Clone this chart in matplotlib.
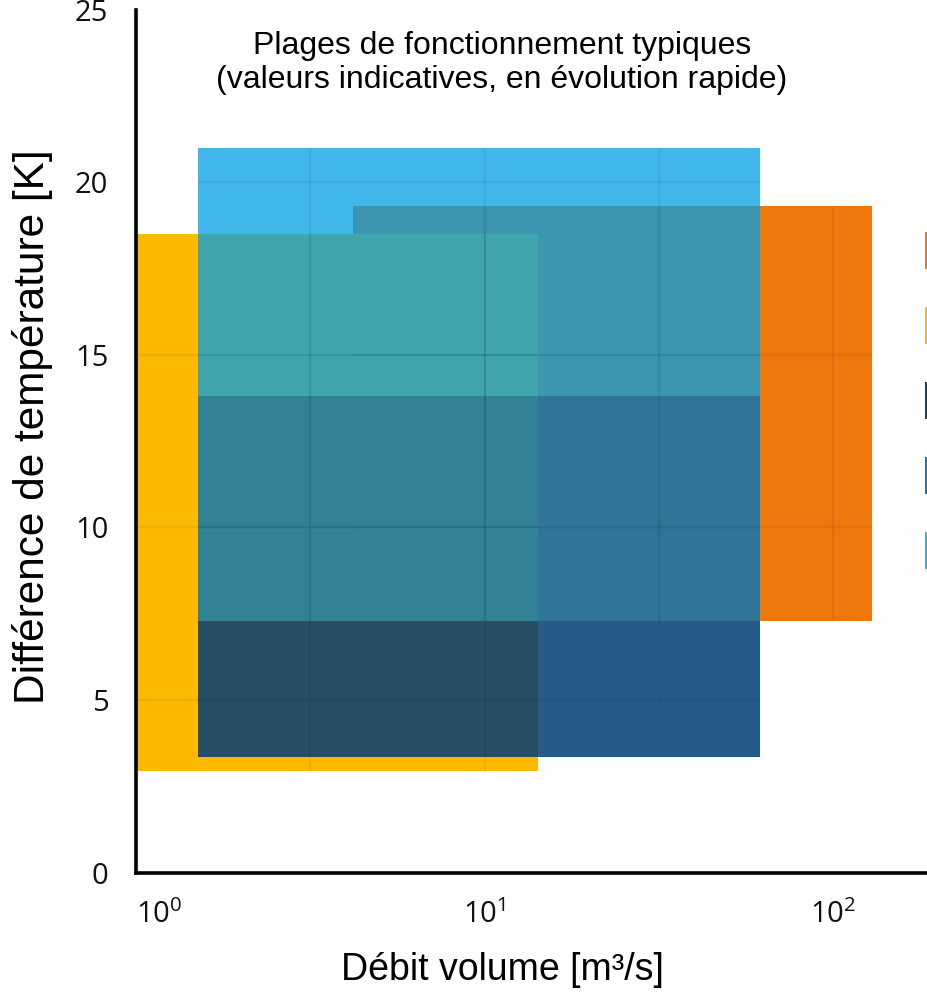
import matplotlib
matplotlib.use("Agg")
import matplotlib.pyplot as plt
from matplotlib.patches import Rectangle, Patch

plt.rcParams["mathtext.fontset"] = "custom"
plt.rcParams["mathtext.rm"] = "Open Sans"
plt.rcParams["mathtext.it"] = "Open Sans"

# operating ranges: (flow min, flow max) [m3/s] and (dT min, dT max) [K]
names = ["Plage 1", "Plage 2", "Plage 3", "Plage 4", "Plage 5"]
flow_min = [4.2, 1.0, 1.5, 1.5, 1.5]
flow_max = [130.0, 14.2, 62.0, 62.0, 62.0]
dT_min = [7.3, 2.95, 3.35, 7.3, 13.8]
dT_max = [19.3, 18.5, 7.3, 13.8, 21.0]
colors = ["#ef780d", "#fbb900", "#003d75", "#0074bb", "#08a0e2"]
alphas = [1.0, 1.0, 0.85, 0.8, 0.77]
legend_colors = ["#ee7c1c", "#fbbb10", "#1d3d6a", "#1c73b5", "#37aee5"]

x_ticks = [1, 10, 100]
x_ticklabels = [r"$10^{0}$", r"$10^{1}$", r"$10^{2}$"]
x_grid = [10 ** 0.5, 10, 10 ** 1.5, 100]
y_ticks = [0, 5, 10, 15, 20, 25]
y_grid = [5, 10, 15, 20]

fig = plt.figure(figsize=(9.28, 9.96), dpi=100)
ax = fig.add_axes([0.1468, 0.1239, 0.9758, 0.8663])
ax.set_xscale("log")
ax.set_xlim(1, 10 ** 2.6)
ax.set_ylim(0, 25)

rects = []
for i in range(len(names)):
    r = Rectangle((flow_min[i], dT_min[i]), flow_max[i] - flow_min[i],
                  dT_max[i] - dT_min[i], facecolor=colors[i],
                  alpha=alphas[i], edgecolor="none", zorder=2 + i * 0.1,
                  label=names[i])
    ax.add_patch(r)
    rects.append(r)

# faint grid, only visible inside the coloured ranges
for r in rects:
    for gx in x_grid:
        ln = ax.axvline(gx, color="#10303f", alpha=0.07, lw=1.6, zorder=3)
        ln.set_clip_path(r)
    for gy in y_grid:
        ln = ax.axhline(gy, color="#10303f", alpha=0.07, lw=1.6, zorder=3)
        ln.set_clip_path(r)

for s in ["top", "right"]:
    ax.spines[s].set_visible(False)
for s in ["left", "bottom"]:
    ax.spines[s].set_linewidth(2.6)
    ax.spines[s].set_zorder(5)

ax.set_xticks(x_ticks)
ax.set_xticklabels(x_ticklabels)
ax.get_xticklabels()[0].set_ha("left")
ax.xaxis.set_minor_locator(matplotlib.ticker.NullLocator())
ax.set_yticks(y_ticks)
ax.set_yticklabels([str(v) for v in y_ticks], fontfamily="Open Sans")
ax.tick_params(axis="y", length=0, pad=20, labelsize=21, colors="#111111")
ax.tick_params(axis="x", length=0, pad=19, labelsize=21, colors="#111111")

ax.set_ylabel("Différence de température [K]", fontfamily="Liberation Sans",
              fontsize=30.5)
ax.yaxis.set_label_coords((53 - 136.2) / 905.6, (872.6 - 426.5) / 862.9)
ax.set_xlabel("Débit volume [m³/s]", fontfamily="Liberation Sans", fontsize=27)
ax.xaxis.set_label_coords((502 - 136.2) / 905.6, -(970 - 872.6) / 862.9)
ax.xaxis.label.set_va("center")

fig.text(502 / 928, 1 - 63 / 996,
         "Plages de fonctionnement typiques\n(valeurs indicatives, en évolution rapide)",
         ha="center", va="center", fontfamily="Liberation Sans", fontsize=23,
         linespacing=1.2)

# legend is cropped at the right edge in the original: only the swatches show
handles = [Patch(facecolor=c, edgecolor="none") for c in legend_colors]
fig.legend(handles, [""] * len(handles), loc="upper left",
           bbox_to_anchor=(925 / 928, 1 - 232 / 996), frameon=False,
           borderpad=0, borderaxespad=0, fontsize=20, handlelength=1.5,
           handleheight=1.68, labelspacing=1.36)

fig.savefig("out.png", dpi=100)
